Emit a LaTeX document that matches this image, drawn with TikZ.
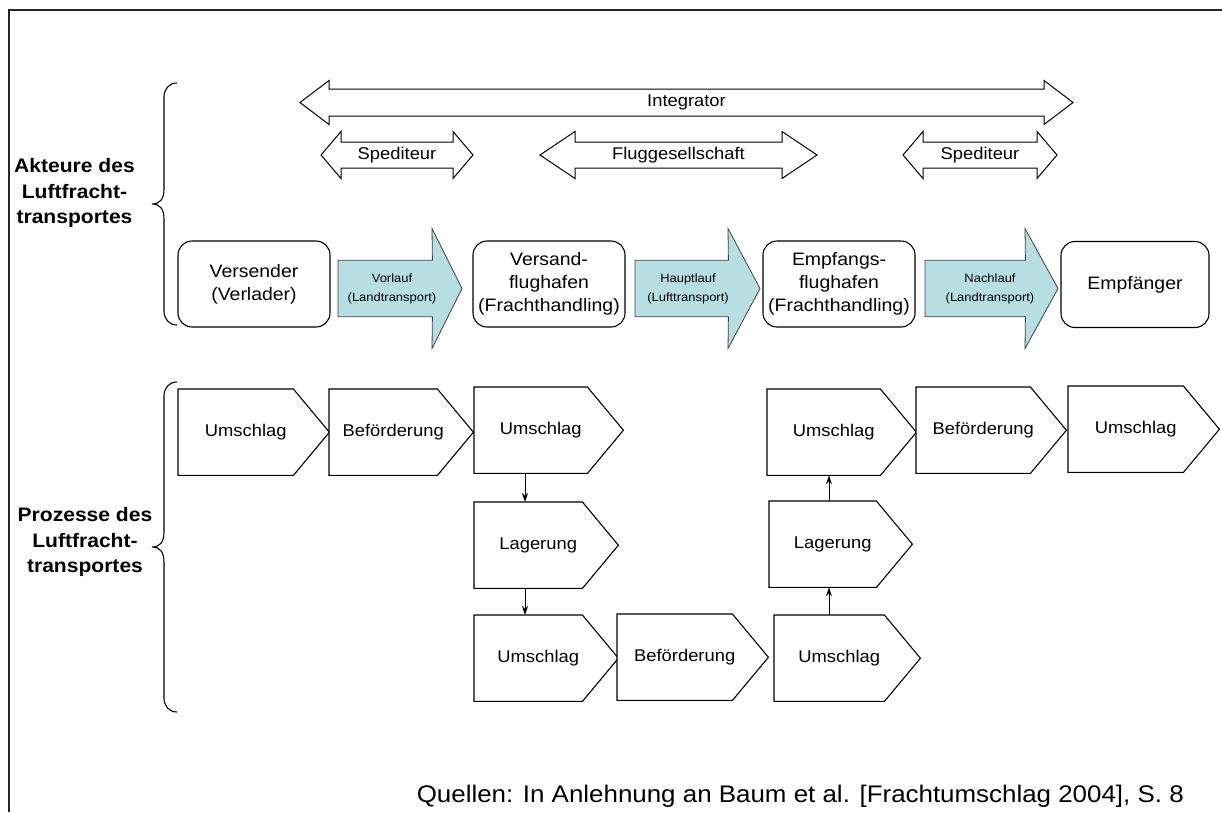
\documentclass[tikz,border=0pt]{standalone}
\usepackage{fontspec}
\setmainfont{Liberation Sans}[FakeStretch=1.08]
\usetikzlibrary{arrows.meta}

\definecolor{legfill}{RGB}{183,222,226}

\tikzset{
  frame/.style={line width=1.6pt, draw=black!85},
  bracestyle/.style={line width=1.1pt},
  dbl/.style={draw=black, line width=1pt, fill=white},
  dbllabel/.style={font=\fontsize{17}{20}\selectfont, inner sep=0pt},
  actor/.style={draw=black, line width=1.1pt, rounded corners=14pt,
    minimum width=152pt, minimum height=86pt, align=center, inner sep=0pt,
    font=\fontsize{18}{23}\selectfont},
  legbody/.style={minimum height=56pt, inner sep=0pt, anchor=west},
  legline/.style={draw=black!75, line width=0.8pt, fill=legfill},
  leglabel/.style={align=center, font=\fontsize{12}{19}\selectfont, inner sep=0pt},
  procbody/.style={minimum height=86pt, inner sep=0pt, anchor=north west},
  procline/.style={draw=black, line width=1.1pt, fill=white},
  proclabel/.style={font=\fontsize{17}{20}\selectfont, inner sep=0pt},
  flow/.style={line width=1pt, -{Stealth[length=9pt, width=6pt]}},
  headline/.style={align=center, font=\bfseries\fontsize{19.5}{25.5}\selectfont, inner sep=0pt},
  footer/.style={font=\fontsize{24}{28}\selectfont, inner sep=0pt, anchor=base east},
}

% double-headed block arrow with a centred label
% #1 name, #2 left tip x, #3 right tip x, #4 y, #5 half shaft, #6 half head, #7 head length, #8 text
\newcommand{\TwoWayArrow}[8]{%
  \draw[dbl] (#2,#4) -- ({#2+#7},{#4-#6}) -- ({#2+#7},{#4-#5}) -- ({#3-#7},{#4-#5})
    -- ({#3-#7},{#4-#6}) -- (#3,#4) -- ({#3-#7},{#4+#6}) -- ({#3-#7},{#4+#5})
    -- ({#2+#7},{#4+#5}) -- ({#2+#7},{#4+#6}) -- cycle;
  \node[dbllabel] (#1) at ({(#2+#3)/2},#4) {#8};
}

% filled transport leg arrow: #1 name, #2 shaft start, #3 head start, #4 tip x
\newcommand{\LegArrow}[4]{%
  \node[legbody, minimum width={#3-#2}] (#1) at (#2,288.5) {};
  \draw[legline] (#1.north west) -- (#1.north east) -- (#3,228.5) -- (#4,288.5)
    -- (#3,348.5) -- (#1.south east) -- (#1.south west) -- cycle;
}

% process step (pentagon): #1 name, #2 left x, #3 top y, #4 body width, #5 text
\newcommand{\ProcStep}[5]{%
  \node[procbody, minimum width=#4] (#1) at (#2,#3) {};
  \draw[procline] (#1.north west) -- (#1.north east) -- ([xshift=36pt]#1.east)
    -- (#1.south east) -- (#1.south west) -- cycle;
  \node[proclabel] (#1-t) at ([xshift=10pt]#1.center) {#5};
}

\begin{document}
\begin{tikzpicture}[x=1pt, y=-1pt]
  \useasboundingbox (0,0) rectangle (1222,812);
  \fill[white] (0,0) rectangle (1222,812);

  % outer frame (top and left edges)
  \draw[frame] (9,812) -- (9,10) -- (1222,10);

  % section headings with braces
  \node[headline] (hAkt) at (74.5,193) {Akteure des\\Luftfracht-\\transportes};
  \node[headline] (hProz) at (85,542) {Prozesse des\\Luftfracht-\\transportes};

  \draw[bracestyle] (177,83) .. controls (169,83) and (164,89) .. (164,97)
    -- (164,189) .. controls (164,199) and (160,204) .. (152,204)
    .. controls (160,204) and (164,209) .. (164,219)
    -- (164,311) .. controls (164,319) and (169,325) .. (177,325);
  \draw[bracestyle] (177,382) .. controls (169,382) and (164,388) .. (164,396)
    -- (164,532) .. controls (164,542) and (160,547) .. (152,547)
    .. controls (160,547) and (164,552) .. (164,562)
    -- (164,698) .. controls (164,706) and (169,712) .. (177,712);

  % responsibilities
  \TwoWayArrow{integrator}{300}{1073}{102.5}{13.5}{22}{29}{Integrator}
  \TwoWayArrow{sped1}{321}{473}{155}{13}{23.5}{20}{Spediteur}
  \TwoWayArrow{airline}{540}{817}{155}{13}{23.5}{35}{Fluggesellschaft}
  \TwoWayArrow{sped2}{903}{1057}{155}{13}{23.5}{20}{Spediteur}

  % actors
  \node[actor] (aVers) at (254,284) {Versender\\(Verlader)};
  \node[actor] (aVfh) at (549,284) {Versand-\\flughafen\\(Frachthandling)};
  \node[actor] (aEfh) at (839,284) {Empfangs-\\flughafen\\(Frachthandling)};
  \node[actor, minimum width=148pt] (aEmp) at (1135,284.5) {Empf\"anger};

  % transport legs
  \LegArrow{legVor}{338}{432}{462}
  \node[leglabel] (legVor-t) at (392,288.5) {Vorlauf\\(Landtransport)};
  \LegArrow{legHaupt}{635}{728}{760}
  \node[leglabel] (legHaupt-t) at (688,288.5) {Hauptlauf\\(Lufttransport)};
  \LegArrow{legNach}{925}{1025}{1058}
  \node[leglabel] (legNach-t) at (990,288.5) {Nachlauf\\(Landtransport)};

  % process chain
  \ProcStep{pU1}{178}{389}{115}{Umschlag}
  \ProcStep{pB1}{329}{389}{108}{Bef\"orderung}
  \ProcStep{pU2}{474}{387}{113}{Umschlag}
  \ProcStep{pL2}{474}{502}{108}{Lagerung}
  \ProcStep{pU3}{474}{615}{108}{Umschlag}
  \ProcStep{pB3}{617}{614}{115}{Bef\"orderung}
  \ProcStep{pU4}{774}{615}{110}{Umschlag}
  \ProcStep{pL4}{769}{501}{107}{Lagerung}
  \ProcStep{pU5}{767}{389}{113}{Umschlag}
  \ProcStep{pB5}{916}{387}{114}{Bef\"orderung}
  \ProcStep{pU6}{1068}{386}{115}{Umschlag}

  \coordinate (colA) at (525,0);
  \coordinate (colB) at (829,0);
  \draw[flow] (pU2.south -| colA) -- (pL2.north -| colA);
  \draw[flow] (pL2.south -| colA) -- (pU3.north -| colA);
  \draw[flow] (pU4.north -| colB) -- (pL4.south -| colB);
  \draw[flow] (pL4.north -| colB) -- (pU5.south -| colB);

  % source line
  \node[footer] (src) at (1184,802) {Quellen: In Anlehnung an Baum et al. [Frachtumschlag 2004], S.~8};
\end{tikzpicture}
\end{document}
